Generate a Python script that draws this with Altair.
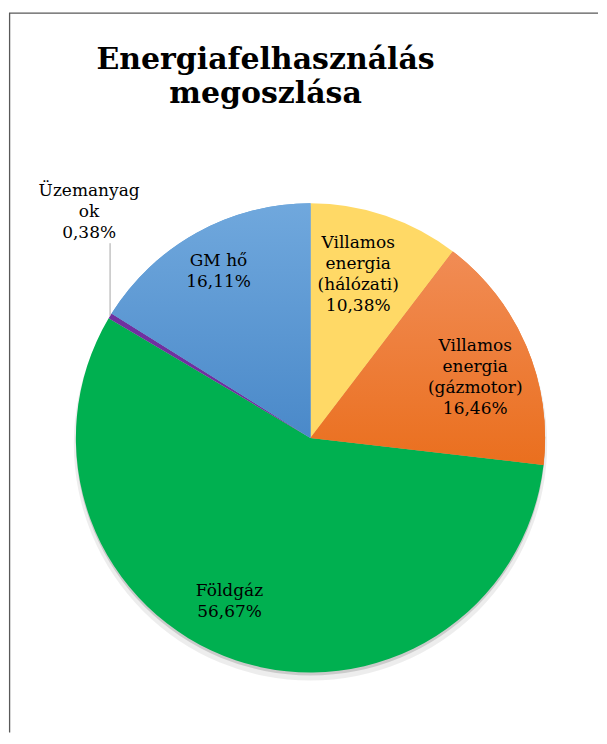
import math
import altair as alt
import pandas as pd

# ---- data ----
categories = ["Villamos energia (hálózati)", "Villamos energia (gázmotor)",
              "Földgáz", "Üzemanyagok", "GM hő"]
label_names = ["Villamos\nenergia\n(hálózati)", "Villamos\nenergia\n(gázmotor)",
               "Földgáz", "Üzemanyag\nok", "GM hő"]
shares = [10.38, 16.46, 56.67, 0.38, 16.11]
colors = ["#FFD966", "#ED7D31", "#00B050", "#7030A0", "#5B9BD5"]
title_lines = "Energiafelhasználás\nmegoszlása"

# ---- layout ----
W, H = 590, 725
CX, CY = 302, 430
R = 235
SERIF = "DejaVu Serif"
LH = 21
# per-label placement: (radius, dx, dy)
label_pos = {
    "Villamos energia (hálózati)": (171, -7, -33.5),
    "Villamos energia (gázmotor)": (176, 3, -23.5),
    "Földgáz": (182, -23, -19.5),
    "Üzemanyagok": (R, -21, -125),
    "GM hő": (190, 0, -10.5),
}
# subtle vertical gradients (top -> bottom) on some slices
gradients = {
    "GM hő": ("#70A8DD", "#4A89C9"),
    "Villamos energia (gázmotor)": ("#F18C55", "#EA6F1E"),
}

df = pd.DataFrame({
    "cat": categories,
    "share": shares,
    "idx": list(range(len(categories))),
    "label": [f"{n}\n{s:.2f}".replace(".", ",") + "%" for n, s in zip(label_names, shares)],
})

theta_scale = alt.Scale(domain=[0, 100], range=[0, 2 * math.pi])

base = (
    alt.Chart(df)
    .transform_window(cum="sum(share)", sort=[alt.SortField("idx")])
    .transform_calculate(start="datum.cum - datum.share",
                         mid="datum.cum - datum.share / 2",
                         end="datum.cum")
)

one = alt.Chart(pd.DataFrame({"a": [0]}))

shadow1 = one.mark_arc(radius=R + 2, theta=0, theta2=2 * math.pi, color="#000000",
                       opacity=0.07).encode(x=alt.value(CX), y=alt.value(CY + 6))
shadow2 = one.mark_arc(radius=R, theta=0, theta2=2 * math.pi, color="#000000",
                       opacity=0.14).encode(x=alt.value(CX), y=alt.value(CY + 3))

arc_enc = dict(
    theta=alt.Theta("start:Q", scale=theta_scale),
    theta2="end:Q",
    x=alt.value(CX),
    y=alt.value(CY),
)

arcs = base.mark_arc(radius=R).encode(
    color=alt.Color("cat:N", scale=alt.Scale(domain=categories, range=colors), legend=None),
    **arc_enc,
)

layers = [shadow1, shadow2, arcs]

for cat, (c0, c1) in gradients.items():
    g = alt.LinearGradient(
        gradient="linear", x1=0, y1=0, x2=0, y2=1,
        stops=[alt.GradientStop(color=c0, offset=0), alt.GradientStop(color=c1, offset=1)],
    )
    layers.append(base.transform_filter(alt.datum.cat == cat)
                  .mark_arc(radius=R, color=g).encode(**arc_enc))

for cat in categories:
    r, dx, dy = label_pos[cat]
    t = base.transform_filter(alt.datum.cat == cat).mark_text(
        radius=r, dx=dx, dy=dy, font=SERIF, fontSize=17, lineBreak="\n",
        lineHeight=LH, align="center", baseline="middle", color="#000000",
    ).encode(
        theta=alt.Theta("mid:Q", scale=theta_scale),
        text="label:N",
        x=alt.value(CX),
        y=alt.value(CY),
    )
    layers.append(t)

# leader line for the small slice
mid_small = (sum(shares[:3]) + shares[3] / 2) / 100 * 2 * math.pi
lx = CX + R * math.sin(mid_small)
ly = CY - R * math.cos(mid_small)
leader = one.mark_rule(color="#A6A6A6", strokeWidth=1).encode(
    x=alt.value(lx), y=alt.value(ly), y2=alt.value(235))
layers.append(leader)

title = one.mark_text(
    text=title_lines, lineBreak="\n", lineHeight=35, font=SERIF, fontSize=30,
    fontWeight="bold", align="center", baseline="alphabetic", color="#000000",
).encode(x=alt.value(257), y=alt.value(60))
layers.append(title)

frame_left = one.mark_rule(color="#595959", strokeWidth=1.3).encode(
    x=alt.value(0.6), y=alt.value(4.5), y2=alt.value(H))
frame_top = one.mark_rule(color="#595959", strokeWidth=1.3).encode(
    x=alt.value(0), x2=alt.value(W), y=alt.value(4.5))
layers += [frame_left, frame_top]

chart = alt.layer(*layers).properties(width=W, height=H, padding=0).configure_view(stroke=None)

chart.save("out.html", embed_options={"renderer": "svg", "actions": False})
